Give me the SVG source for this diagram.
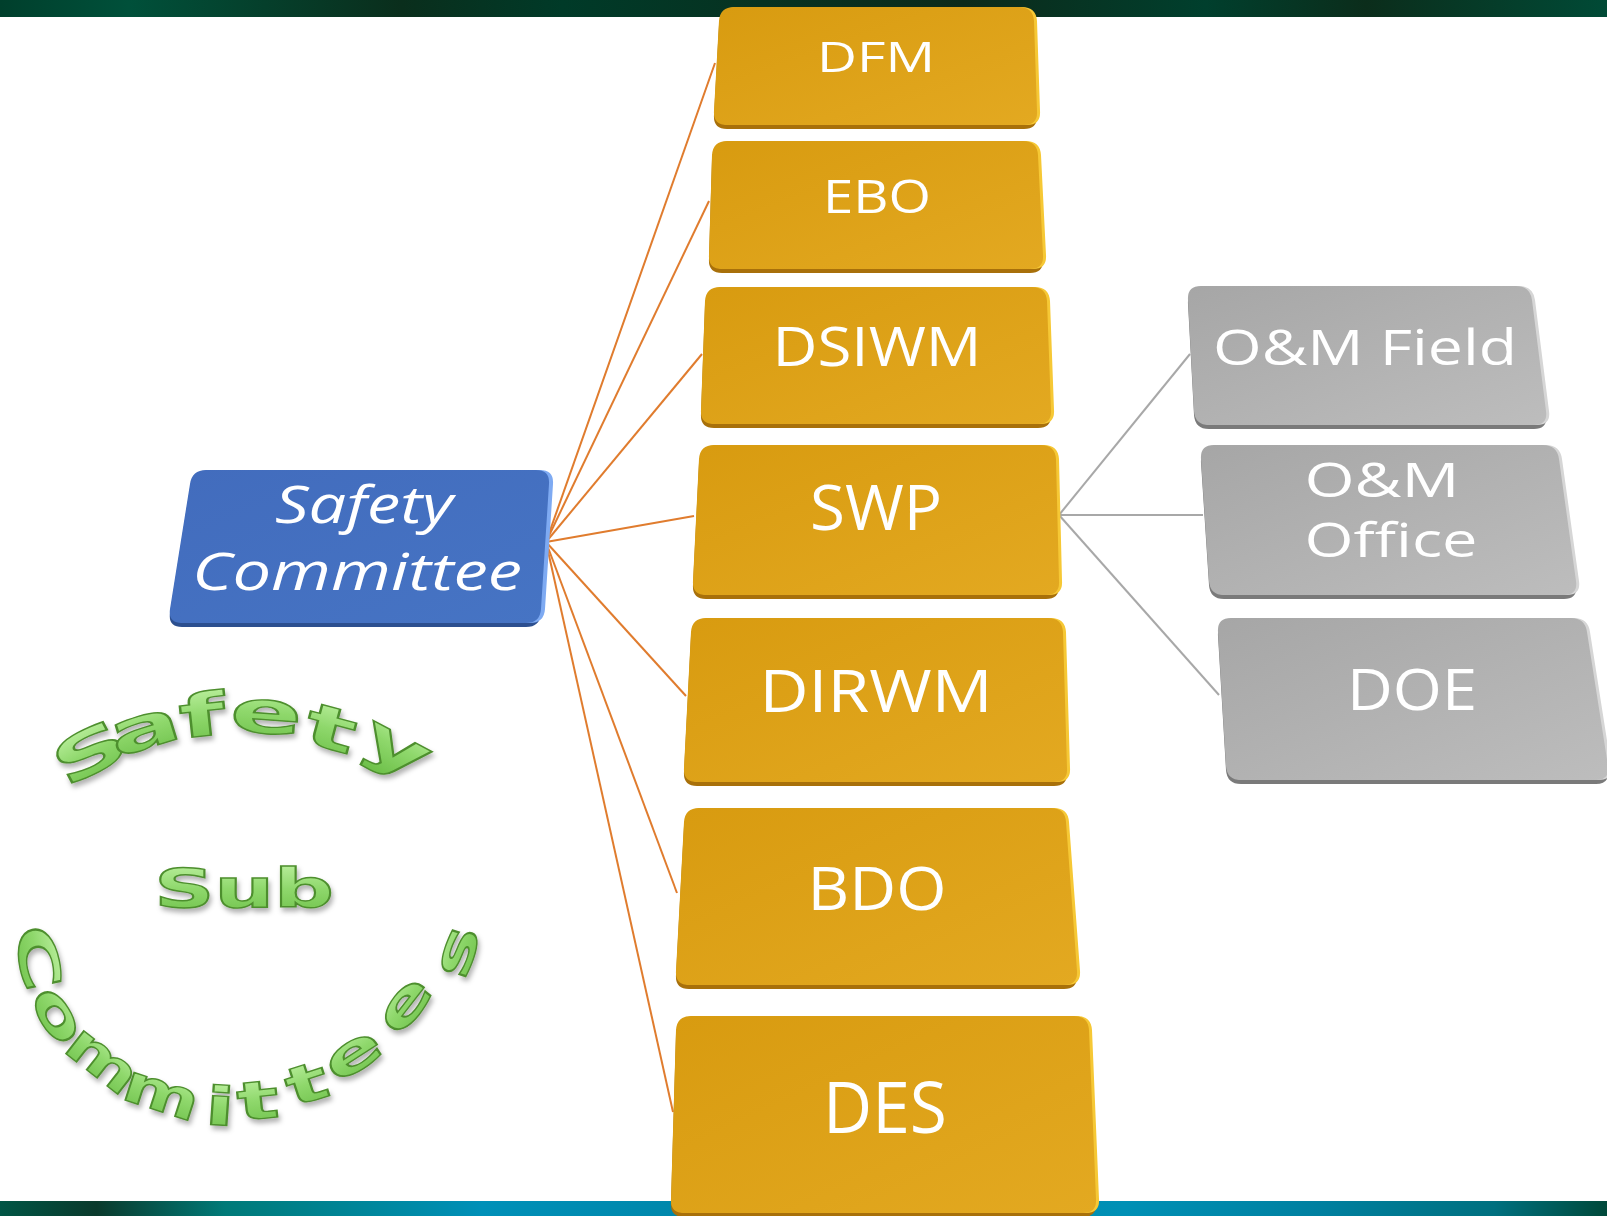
<svg xmlns="http://www.w3.org/2000/svg" xmlns:xlink="http://www.w3.org/1999/xlink" width="1607" height="1216" viewBox="0 0 1607 1216">
<defs>
<linearGradient id="gTop" x1="0" y1="0" x2="1" y2="0">
<stop offset="0" stop-color="#003f2c"/><stop offset="0.08" stop-color="#00503a"/><stop offset="0.25" stop-color="#0a2e1c"/><stop offset="0.35" stop-color="#003a28"/><stop offset="0.6" stop-color="#0c2a1a"/><stop offset="0.75" stop-color="#003f2d"/><stop offset="0.85" stop-color="#0b2d1b"/><stop offset="1" stop-color="#004a36"/>
</linearGradient>
<linearGradient id="gBot" x1="0" y1="0" x2="1" y2="0">
<stop offset="0" stop-color="#005545"/><stop offset="0.06" stop-color="#0a3a2c"/><stop offset="0.14" stop-color="#007a78"/><stop offset="0.3" stop-color="#0090b8"/><stop offset="0.45" stop-color="#0085a8"/><stop offset="0.7" stop-color="#0090b5"/><stop offset="0.82" stop-color="#0080a0"/><stop offset="0.93" stop-color="#00707f"/><stop offset="1" stop-color="#00493a"/>
</linearGradient>
<linearGradient id="gO" x1="0" y1="0" x2="1" y2="1">
<stop offset="0" stop-color="#d89b10"/><stop offset="1" stop-color="#e3a921"/>
</linearGradient>
<linearGradient id="gG" x1="0" y1="0" x2="1" y2="1">
<stop offset="0" stop-color="#a6a6a6"/><stop offset="1" stop-color="#bdbdbd"/>
</linearGradient>
<linearGradient id="gB" x1="0" y1="0" x2="1" y2="1">
<stop offset="0" stop-color="#426cbd"/><stop offset="1" stop-color="#4674c4"/>
</linearGradient>
<linearGradient id="gW" x1="0" y1="0" x2="0" y2="1">
<stop offset="0" stop-color="#c4f4a8"/><stop offset="0.5" stop-color="#8fd86c"/><stop offset="1" stop-color="#6cbf48"/>
</linearGradient>
<filter id="sh" x="-30%" y="-30%" width="160%" height="160%">
<feDropShadow dx="2" dy="4" stdDeviation="2.5" flood-color="#000" flood-opacity="0.3"/>
</filter>
<path id="pDFM" d="M734,7 L1019,7 Q1033,7 1034,21 L1037,111 Q1038,125 1024,125 L727,125 Q713,125 714,111 L719,21 Q720,7 734,7Z"/>
<path id="pEBO" d="M727,141 L1023,141 Q1037,141 1038,155 L1043,255 Q1044,269 1030,269 L722,269 Q708,269 709,255 L712,155 Q713,141 727,141Z"/>
<path id="pDSIWM" d="M720,287 L1032,287 Q1046,287 1047,301 L1051,410 Q1052,424 1038,424 L714,424 Q700,424 701,410 L705,301 Q706,287 720,287Z"/>
<path id="pSWP" d="M714,445 L1041,445 Q1055,445 1056,459 L1059,581 Q1060,595 1046,595 L706,595 Q692,595 693,581 L699,459 Q700,445 714,445Z"/>
<path id="pDIRWM" d="M706,618 L1048,618 Q1062,618 1063,632 L1067,768 Q1068,782 1054,782 L697,782 Q683,782 684,768 L691,632 Q692,618 706,618Z"/>
<path id="pBDO" d="M699,808 L1051,808 Q1065,808 1066,822 L1077,971 Q1078,985 1064,985 L689,985 Q675,985 676,971 L684,822 Q685,808 699,808Z"/>
<path id="pDES" d="M691,1016 L1074,1016 Q1088,1016 1089,1030 L1096,1199 Q1097,1213 1083,1213 L684,1213 Q670,1213 671,1199 L676,1030 Q677,1016 691,1016Z"/>
<path id="pOMF" d="M1201,286 L1516,286 Q1530,286 1532,300 L1546,411 Q1548,425 1534,425 L1209,425 Q1195,425 1194,411 L1188,300 Q1187,286 1201,286Z"/>
<path id="pOMO" d="M1214,445 L1543,445 Q1557,445 1559,459 L1576,581 Q1578,595 1564,595 L1224,595 Q1210,595 1209,581 L1201,459 Q1200,445 1214,445Z"/>
<path id="pDOE" d="M1231,618 L1571,618 Q1585,618 1587,632 L1608,766 Q1610,780 1596,780 L1241,780 Q1227,780 1226,766 L1218,632 Q1217,618 1231,618Z"/>
<path id="pSC" d="M206,470 L536,470 Q550,470 549,484 L541,609 Q540,623 526,623 L182,623 Q168,623 170,609 L190,484 Q192,470 206,470Z"/>
</defs>
<style>
.rimO{fill:#a8700a}
.hiO{fill:#f6c835}
.faceO{fill:url(#gO)}
.rimG{fill:#7a7a7a}
.hiG{fill:#d6d6d6}
.faceG{fill:url(#gG)}
.rimB{fill:#2c4f8f}
.hiB{fill:#7eaaf2}
.faceB{fill:url(#gB)}
.lbl{font-family:"Open Sans","Noto Sans","DejaVu Sans",sans-serif;fill:#ffffff;text-anchor:middle;font-variant-ligatures:none}
.it{font-style:italic}
.cO{stroke:#e07c2e;stroke-width:2;fill:none}
.cG{stroke:#a8a8a8;stroke-width:2;fill:none}
.wa{font-family:"DejaVu Sans","Liberation Sans",sans-serif;font-weight:bold;fill:url(#gW);stroke:#4e8f2e;stroke-width:1.4;text-anchor:middle}
</style>
<rect x="0" y="0" width="1607" height="1216" fill="#ffffff"/>
<rect x="0" y="0" width="1607" height="17" fill="url(#gTop)"/>
<rect x="0" y="1201" width="1607" height="15" fill="url(#gBot)"/>

<g id="connectors">
<line class="cO" x1="546" y1="542" x2="715" y2="63"/>
<line class="cO" x1="546" y1="542" x2="709" y2="201"/>
<line class="cO" x1="546" y1="542" x2="702" y2="354"/>
<line class="cO" x1="546" y1="542" x2="694" y2="516"/>
<line class="cO" x1="546" y1="542" x2="686" y2="696"/>
<line class="cO" x1="546" y1="542" x2="677" y2="893"/>
<line class="cO" x1="546" y1="542" x2="673" y2="1112"/>
<line class="cG" x1="1059" y1="515" x2="1190" y2="354"/>
<line class="cG" x1="1059" y1="515" x2="1203" y2="515"/>
<line class="cG" x1="1059" y1="515" x2="1219" y2="695"/>
</g>

<g id="node-safety-committee">
<use href="#pSC" class="rimB" transform="translate(0,4)"/>
<use href="#pSC" class="hiB" transform="translate(4,0)"/>
<use href="#pSC" class="faceB"/>
<text class="lbl it" x="364" y="523" font-size="51" textLength="178" lengthAdjust="spacingAndGlyphs">Safety</text>
<text class="lbl it" x="357" y="590" font-size="51" textLength="330" lengthAdjust="spacingAndGlyphs">Committee</text>
</g>

<g id="node-dfm">
<use href="#pDFM" class="rimO" transform="translate(0,4)"/>
<use href="#pDFM" class="hiO" transform="translate(3,0)"/>
<use href="#pDFM" class="faceO"/>
<text class="lbl" x="876" y="72" font-size="42" textLength="118" lengthAdjust="spacingAndGlyphs">DFM</text>
</g>
<g id="node-ebo">
<use href="#pEBO" class="rimO" transform="translate(0,4)"/>
<use href="#pEBO" class="hiO" transform="translate(3,0)"/>
<use href="#pEBO" class="faceO"/>
<text class="lbl" x="877" y="213" font-size="46" textLength="108" lengthAdjust="spacingAndGlyphs">EBO</text>
</g>
<g id="node-dsiwm">
<use href="#pDSIWM" class="rimO" transform="translate(0,4)"/>
<use href="#pDSIWM" class="hiO" transform="translate(3,0)"/>
<use href="#pDSIWM" class="faceO"/>
<text class="lbl" x="877" y="366" font-size="54" textLength="209" lengthAdjust="spacingAndGlyphs">DSIWM</text>
</g>
<g id="node-swp">
<use href="#pSWP" class="rimO" transform="translate(0,4)"/>
<use href="#pSWP" class="hiO" transform="translate(3,0)"/>
<use href="#pSWP" class="faceO"/>
<text class="lbl" x="876" y="530" font-size="62" textLength="132" lengthAdjust="spacingAndGlyphs">SWP</text>
</g>
<g id="node-dirwm">
<use href="#pDIRWM" class="rimO" transform="translate(0,4)"/>
<use href="#pDIRWM" class="hiO" transform="translate(3,0)"/>
<use href="#pDIRWM" class="faceO"/>
<text class="lbl" x="876" y="712" font-size="58" textLength="233" lengthAdjust="spacingAndGlyphs">DIRWM</text>
</g>
<g id="node-bdo">
<use href="#pBDO" class="rimO" transform="translate(0,4)"/>
<use href="#pBDO" class="hiO" transform="translate(3,0)"/>
<use href="#pBDO" class="faceO"/>
<text class="lbl" x="877" y="910" font-size="61" textLength="139" lengthAdjust="spacingAndGlyphs">BDO</text>
</g>
<g id="node-des">
<use href="#pDES" class="rimO" transform="translate(0,4)"/>
<use href="#pDES" class="hiO" transform="translate(3,0)"/>
<use href="#pDES" class="faceO"/>
<text class="lbl" x="885" y="1133" font-size="71" textLength="124" lengthAdjust="spacingAndGlyphs">DES</text>
</g>

<g id="node-om-field">
<use href="#pOMF" class="rimG" transform="translate(0,4)"/>
<use href="#pOMF" class="hiG" transform="translate(3,0)"/>
<use href="#pOMF" class="faceG"/>
<text class="lbl" x="1365" y="365" font-size="50" textLength="304" lengthAdjust="spacingAndGlyphs">O&amp;M Field</text>
</g>
<g id="node-om-office">
<use href="#pOMO" class="rimG" transform="translate(0,4)"/>
<use href="#pOMO" class="hiG" transform="translate(3,0)"/>
<use href="#pOMO" class="faceG"/>
<text class="lbl" x="1382" y="497" font-size="47" textLength="155" lengthAdjust="spacingAndGlyphs">O&amp;M</text>
<text class="lbl" x="1391" y="557" font-size="47" textLength="173" lengthAdjust="spacingAndGlyphs">Office</text>
</g>
<g id="node-doe">
<use href="#pDOE" class="rimG" transform="translate(0,4)"/>
<use href="#pDOE" class="hiG" transform="translate(3,0)"/>
<use href="#pDOE" class="faceG"/>
<text class="lbl" x="1412" y="710" font-size="56" textLength="130" lengthAdjust="spacingAndGlyphs">DOE</text>
</g>

<g id="wordart" filter="url(#sh)">
<g font-size="59">
<text class="wa" transform="translate(90,752) rotate(-28) scale(1.8,1)" y="21">S</text>
<text class="wa" transform="translate(145,731) rotate(-17) scale(1.8,1)" y="17">a</text>
<text class="wa" transform="translate(202,714) rotate(-6) scale(1.8,1)" y="22">f</text>
<text class="wa" transform="translate(266,716) rotate(4) scale(1.8,1)" y="17">e</text>
<text class="wa" transform="translate(331,729) rotate(15) scale(1.8,1)" y="20">t</text>
<text class="wa" transform="translate(393,755) rotate(28) scale(1.8,1)" y="11">y</text>
</g>
<text class="wa" transform="translate(244,907) scale(1.55,1)" font-size="54">Sub</text>
<g font-size="53">
<text class="wa" transform="translate(38,958) rotate(78) scale(1.7,1)" y="19">C</text>
<text class="wa" transform="translate(56,1016) rotate(58) scale(1.65,1)" y="15">o</text>
<text class="wa" transform="translate(101,1062) rotate(38) scale(1.4,1)" y="15">m</text>
<text class="wa" transform="translate(161,1096) rotate(18) scale(1.4,1)" y="15">m</text>
<text class="wa" transform="translate(220,1105) rotate(4) scale(1.65,1)" y="20">i</text>
<text class="wa" transform="translate(258,1101) rotate(-6) scale(1.65,1)" y="18">t</text>
<text class="wa" transform="translate(307,1084) rotate(-18) scale(1.65,1)" y="18">t</text>
<text class="wa" transform="translate(354,1056) rotate(-33) scale(1.65,1)" y="15">e</text>
<text class="wa" transform="translate(406,1006) rotate(-52) scale(1.65,1)" y="15">e</text>
<text class="wa" transform="translate(459,952) rotate(-72) scale(1.65,1)" y="15">s</text>
</g>
</g>
</svg>
